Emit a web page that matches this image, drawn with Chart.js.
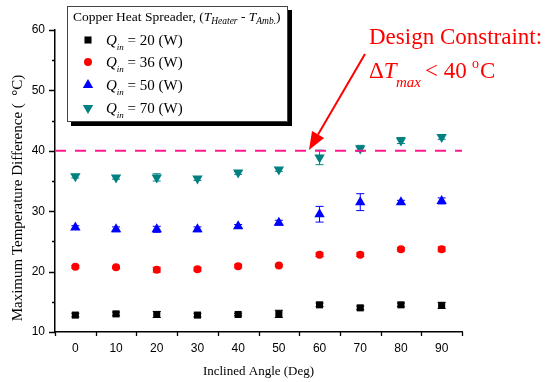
<!DOCTYPE html>
<html>
<head>
<meta charset="utf-8">
<script src="https://cdn.jsdelivr.net/npm/chart.js@4/dist/chart.umd.min.js"></script>
<style>body{margin:0;background:#fff}canvas{display:block}</style>
</head>
<body>
<canvas id="c" width="555" height="382"></canvas>
<script>
// inclined angle (deg)
const angles = [0, 10, 20, 30, 40, 50, 60, 70, 80, 90];
// max temperature difference, one array per heater power
const q20 = [12.8, 13.0, 12.9, 12.8, 12.9, 13.0, 14.5, 14.0, 14.5, 14.4];
const q36 = [20.8, 20.7, 20.3, 20.4, 20.9, 21.0, 22.8, 22.8, 23.7, 23.7];
const q50 = [27.3, 27.0, 27.0, 27.0, 27.5, 28.1, 29.5, 31.5, 31.5, 31.7];
const q70 = [35.8, 35.6, 35.6, 35.4, 36.4, 36.9, 38.9, 40.4, 41.7, 42.3];
// error bar half heights
const e20 = [0.3, 0.3, 0.5, 0.3, 0.2, 0.6, 0.3, 0.3, 0.3, 0.5];
const e36 = [0.2, 0.2, 0.4, 0.3, 0.3, 0.2, 0.3, 0.3, 0.3, 0.4];
const e50 = [0.3, 0.4, 0.5, 0.4, 0.3, 0.4, 1.3, 1.4, 0.3, 0.5];
const e70 = [0.3, 0.3, 0.6, 0.3, 0.3, 0.3, 1.2, 0.5, 0.5, 0.4];
const powers = [20, 36, 50, 70];
const limit = 40;
const yTicks = [10, 20, 30, 40, 50, 60];

const serif = "'Liberation Serif', 'Times New Roman', serif";
const sans = "'Liberation Sans', Arial, sans-serif";

const series = [
  { vals: q20, errs: e20, color: '#000000', style: 'rect', r: 5, rot: 0 },
  { vals: q36, errs: e36, color: '#ff0000', style: 'circle', r: 4, rot: 0 },
  { vals: q50, errs: e50, color: '#0000ff', style: 'triangle', r: 6, rot: 0 },
  { vals: q70, errs: e70, color: '#008080', style: 'triangle', r: 6, rot: 180 }
];

function runs(ctx, x, y, parts) {
  parts.forEach(p => {
    ctx.font = p.f;
    if (p.x !== undefined) x = p.x;
    ctx.fillText(p.t, x, y + (p.dy || 0));
    x += ctx.measureText(p.t).width;
  });
}

function marker(ctx, s, x, y) {
  ctx.fillStyle = s.color;
  ctx.beginPath();
  if (s.style === 'rect') {
    const h = s.r / Math.SQRT2;
    ctx.rect(x - h, y - h, 2 * h, 2 * h);
  } else if (s.style === 'circle') {
    ctx.arc(x, y, s.r, 0, Math.PI * 2);
  } else {
    const d = s.rot ? -1 : 1;
    ctx.moveTo(x, y - d * s.r);
    ctx.lineTo(x + s.r * 0.866, y + d * s.r * 0.5);
    ctx.lineTo(x - s.r * 0.866, y + d * s.r * 0.5);
    ctx.closePath();
  }
  ctx.fill();
}

const extras = {
  id: 'extras',
  beforeDatasetsDraw(chart) {
    const { ctx, scales: { x, y } } = chart;
    ctx.save();
    ctx.lineWidth = 1;
    series.forEach(s => {
      ctx.strokeStyle = s.color;
      s.vals.forEach((v, i) => {
        const px = x.getPixelForValue(angles[i]);
        const t = y.getPixelForValue(v + s.errs[i]);
        const b = y.getPixelForValue(v - s.errs[i]);
        ctx.beginPath();
        ctx.moveTo(px, t); ctx.lineTo(px, b);
        ctx.moveTo(px - 4, t); ctx.lineTo(px + 4, t);
        ctx.moveTo(px - 4, b); ctx.lineTo(px + 4, b);
        ctx.stroke();
      });
    });
    ctx.restore();
  },
  afterDraw(chart) {
    const { ctx, chartArea: a, scales: { x, y } } = chart;
    ctx.save();
    // ticks
    ctx.strokeStyle = '#000';
    ctx.lineWidth = 1.3;
    ctx.beginPath();
    for (let v = 10; v <= 60; v += 5) {
      const py = Math.round(y.getPixelForValue(v)) + 0.5;
      ctx.moveTo(a.left - (v % 10 === 0 ? 6 : 3), py);
      ctx.lineTo(a.left, py);
    }
    for (let v = -5; v <= 95; v += 10) {
      const px = Math.round(x.getPixelForValue(v)) + 0.5;
      ctx.moveTo(px, a.bottom);
      ctx.lineTo(px, a.bottom + 4);
    }
    ctx.stroke();

    // y axis title (sits a little below the axis centre in the original)
    ctx.save();
    ctx.translate(18, 198);
    ctx.rotate(-Math.PI / 2);
    ctx.fillStyle = '#000';
    ctx.font = '15px ' + serif;
    ctx.textAlign = 'center';
    ctx.textBaseline = 'middle';
    ctx.fillText('Maximum Temperature Difference (  \u00b0C)', 0, 0);
    ctx.restore();

    // legend box with shadow
    ctx.fillStyle = '#000';
    ctx.fillRect(71, 10, 221, 116);
    ctx.fillStyle = '#fff';
    ctx.fillRect(67, 6, 221, 116);
    ctx.strokeStyle = '#444';
    ctx.lineWidth = 1;
    ctx.strokeRect(67.5, 6.5, 220, 115);
    ctx.fillStyle = '#000';
    ctx.textBaseline = 'alphabetic';
    ctx.textAlign = 'left';
    runs(ctx, 73, 21, [
      { t: 'Copper Heat Spreader, (', f: '13.5px ' + serif },
      { t: 'T', f: 'italic 13.5px ' + serif },
      { t: 'Heater', f: 'italic 9.5px ' + serif, dy: 3 },
      { t: ' - ', f: '13.5px ' + serif },
      { t: 'T', f: 'italic 13.5px ' + serif },
      { t: 'Amb.', f: 'italic 9.5px ' + serif, dy: 3 },
      { t: ')', f: '13.5px ' + serif }
    ]);
    const rows = [40, 62, 85, 108];
    series.forEach((s, i) => {
      marker(ctx, s, 88, rows[i]);
      ctx.fillStyle = '#000';
      runs(ctx, 106, rows[i] + 5, [
        { t: 'Q', f: 'italic 15px ' + serif },
        { t: 'in', f: 'italic 9px ' + serif, dy: 5 },
        { t: ' = ' + powers[i] + ' (W)', f: '15px ' + serif }
      ]);
    });

    // design constraint note
    ctx.fillStyle = '#ff0000';
    runs(ctx, 369, 44, [{ t: 'Design Constraint:', f: '23px ' + serif }]);
    runs(ctx, 369, 78, [
      { t: '\u0394', f: '23px ' + serif },
      { t: 'T', f: 'italic 23px ' + serif },
      { t: 'max', f: 'italic 15px ' + serif, dy: 9, x: 396 },
      { t: '< 40 ', f: '23px ' + serif, x: 425 },
      { t: 'o', f: '14px ' + serif, dy: -10, x: 472 },
      { t: 'C', f: '23px ' + serif, x: 480 }
    ]);
    // arrow
    const x0 = 365, y0 = 54, x1 = 309, y1 = 150;
    const ang = Math.atan2(y1 - y0, x1 - x0);
    const hl = 18, hw = 7;
    const bx = x1 - hl * Math.cos(ang), by = y1 - hl * Math.sin(ang);
    ctx.strokeStyle = '#ff0000';
    ctx.lineWidth = 2;
    ctx.beginPath();
    ctx.moveTo(x0, y0); ctx.lineTo(bx, by);
    ctx.stroke();
    ctx.beginPath();
    ctx.moveTo(x1, y1);
    ctx.lineTo(bx + hw * Math.sin(ang), by - hw * Math.cos(ang));
    ctx.lineTo(bx - hw * Math.sin(ang), by + hw * Math.cos(ang));
    ctx.closePath();
    ctx.fillStyle = '#ff0000';
    ctx.fill();
    ctx.restore();
  }
};

const datasets = series.map((s, i) => ({
  label: 'Q = ' + powers[i] + ' (W)',
  data: angles.map((a, j) => ({ x: a, y: s.vals[j] })),
  showLine: false,
  pointStyle: s.style,
  pointRotation: s.rot,
  pointRadius: s.r,
  pointHoverRadius: s.r,
  pointBackgroundColor: s.color,
  pointBorderColor: s.color,
  pointBorderWidth: 0
}));
datasets.unshift({
  label: 'limit',
  data: [{ x: -5, y: limit }, { x: 95, y: limit }],
  showLine: true,
  borderColor: '#ff1a8c',
  borderWidth: 2,
  borderDash: [11, 9],
  pointRadius: 0
});

new Chart(document.getElementById('c'), {
  type: 'scatter',
  data: { datasets },
  options: {
    responsive: false,
    animation: false,
    layout: { padding: { top: 30, right: 93, left: 0, bottom: 0 } },
    plugins: { legend: { display: false }, tooltip: { enabled: false } },
    scales: {
      x: {
        type: 'linear', min: -5, max: 95,
        afterFit: s => { s.height = 50; },
        afterBuildTicks: s => { s.ticks = angles.map(v => ({ value: v })); },
        grid: { display: true, drawOnChartArea: false, drawTicks: false },
        border: { display: true, color: '#000', width: 1.5 },
        ticks: { color: '#000', font: { family: sans, size: 12 }, padding: 9, maxRotation: 0 },
        title: { display: true, text: 'Inclined Angle (Deg)', color: '#000', font: { family: serif, size: 13 }, padding: { top: 0, bottom: 3 } }
      },
      y: {
        min: 10, max: 60,
        afterFit: s => { s.width = 55; },
        afterBuildTicks: s => { s.ticks = yTicks.map(v => ({ value: v })); },
        grid: { display: true, drawOnChartArea: false, drawTicks: false },
        border: { display: true, color: '#000', width: 1.5 },
        ticks: { color: '#000', font: { family: sans, size: 12 }, padding: 10 },
        title: { display: false }
      }
    }
  },
  plugins: [extras]
});
</script>
</body>
</html>
